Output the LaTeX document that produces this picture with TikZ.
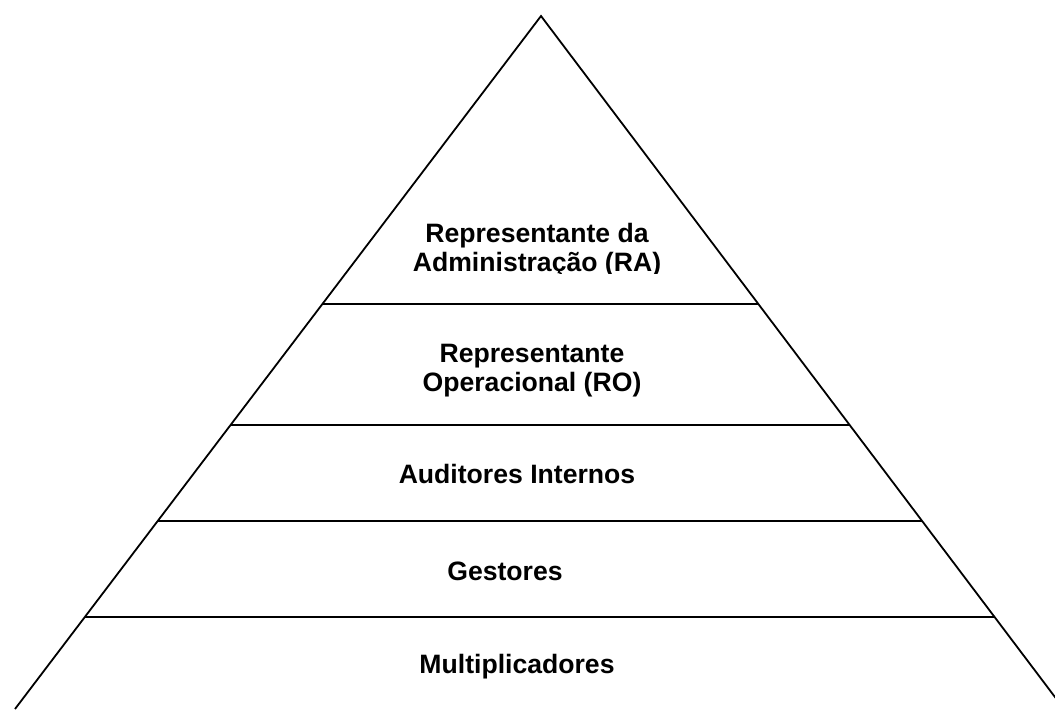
\documentclass[tikz,border=0pt]{standalone}
\usepackage{fontspec}
\setmainfont{Liberation Sans}
\usetikzlibrary{calc}
\tikzset{
  level/.style={font=\bfseries\fontsize{13.3pt}{14.5pt}\selectfont, align=center, inner sep=0pt},
  edge/.style={line width=0.9pt}
}
\begin{document}
\begin{tikzpicture}[x=0.5pt,y=-0.5pt]
\useasboundingbox (0,0) rectangle (1055,709);
\clip (0,0) rectangle (1055,709);
\coordinate (apex) at (541,16);
\coordinate (bl) at (15,709);
\coordinate (br) at (1064,709);
\draw[edge] (bl) -- (apex) -- (br);

% dividing lines
\foreach \t in {0.4156,0.5902,0.7287,0.8672}
  \draw[edge] ($(apex)!\t!(bl)$) -- ($(apex)!\t!(br)$);

% labels
\begin{scope}
\clip (0,0) rectangle (1055,273);
\node[level] (ra) at (537,250) {Representante da\\Administração (RA)};
\end{scope}
\node[level] (ro) at (532,371) {Representante\\Operacional (RO)};
\node[level] (ai) at (517,474) {Auditores Internos};
\node[level] (ge) at (505,571) {Gestores};
\node[level] (mu) at (517,667) {Multiplicadores};
\end{tikzpicture}
\end{document}
